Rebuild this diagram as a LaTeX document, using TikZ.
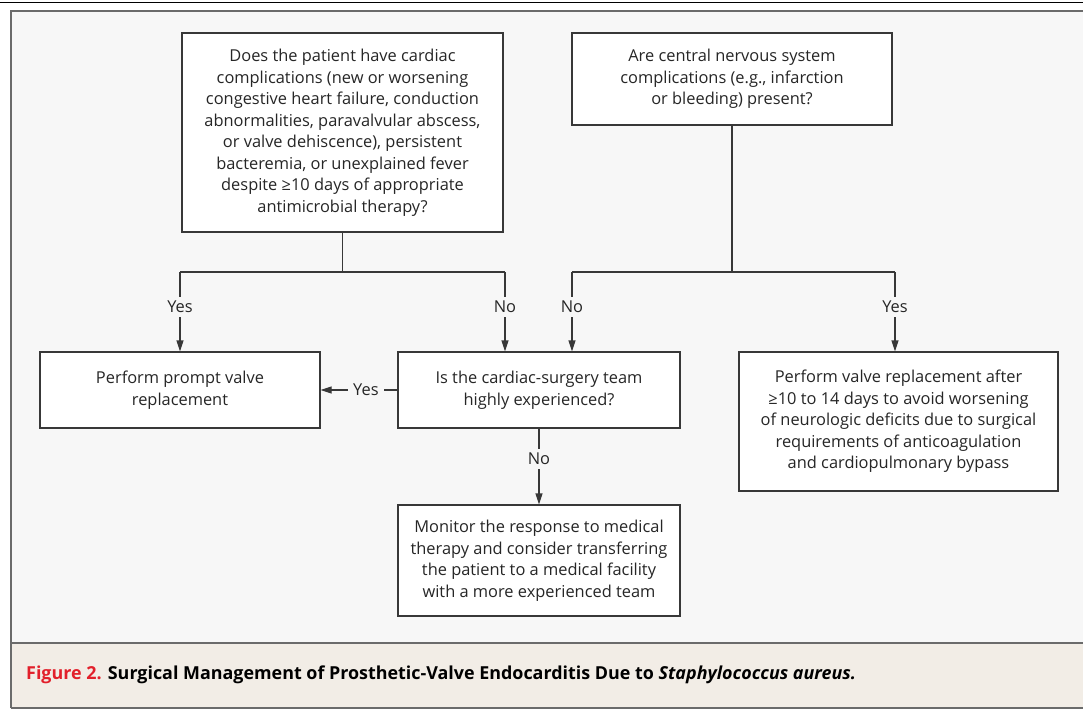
\documentclass[tikz,border=0pt]{standalone}
\usepackage{fontspec}
\setmainfont{Open Sans}
\usetikzlibrary{arrows.meta}

\definecolor{framegray}{HTML}{6B6B6B}
\definecolor{panelbg}{HTML}{F7F7F7}
\definecolor{captionbg}{HTML}{F2EDE6}
\definecolor{linegray}{HTML}{383838}
\definecolor{figred}{HTML}{E2202B}

\begin{document}
\begin{tikzpicture}[x=1pt,y=-1pt,
		box/.style={draw=linegray,line width=1.2pt,fill=white,align=center,inner sep=0pt,
			font=\fontsize{16.4}{21.5}\selectfont,text=black!85},
		conn/.style={draw=linegray,line width=1.2pt},
		arr/.style={conn,-{Triangle[length=11pt,width=7pt]}},
		lbl/.style={fill=panelbg,inner xsep=5pt,inner ysep=4pt,font=\fontsize{16.4}{18}\selectfont,text=black!85}]
				\useasboundingbox (0,0) rectangle (1083,710);
				\clip (0,0) rectangle (1083,710);

				% Panel and caption background
				\fill[panelbg] (11,11) rectangle (1095,643);
				\fill[captionbg] (11,643) rectangle (1095,708);
				\draw[black,line width=1.5pt] (0,2.5) -- (1083,2.5);
				\draw[framegray,line width=2.2pt] (11,708) -- (11,11) -- (1095,11);
				\draw[framegray,line width=2.5pt] (11,643) -- (1095,643);
				\draw[framegray,line width=2.2pt] (11,708) -- (1095,708);

				% Question boxes
				\node[box,minimum width=321,minimum height=199] (cardiac) at (342.5,132.5)
					{Does the patient have cardiac\\ complications (new or worsening\\ congestive heart failure, conduction\\ abnormalities, paravalvular abscess,\\ or valve dehiscence), persistent\\ bacteremia, or unexplained fever\\ despite ≥10 days of appropriate\\ antimicrobial therapy?};
				\node[box,minimum width=320,minimum height=92] (cns) at (732,79)
					{Are central nervous system\\ complications (e.g., infarction\\ or bleeding) present?};

				% Second row
				\node[box,minimum width=280,minimum height=76] (prompt) at (180,390)
					{Perform prompt valve\\ replacement};
				\node[box,minimum width=282,minimum height=76] (team) at (539,390)
					{Is the cardiac-surgery team\\ highly experienced?};
				\node[box,minimum width=319,minimum height=139] (delay) at (898.5,421.5)
					{Perform valve replacement after\\ ≥10 to 14 days to avoid worsening\\ of neurologic deficits due to surgical\\ requirements of anticoagulation\\ and cardiopulmonary bypass};

				% Third row
				\node[box,minimum width=282,minimum height=111] (monitor) at (539,560.5)
					{Monitor the response to medical\\ therapy and consider transferring\\ the patient to a medical facility\\ with a more experienced team};

				% Branch points
				\coordinate (cY) at (180,272);
				\coordinate (cN) at (505,272);
				\coordinate (nN) at (572,272);
				\coordinate (nY) at (895,272);

				% Cardiac question
				\draw[conn] (cardiac.south) -- (cardiac.south |- cY);
				\draw[conn] (cY) -- (cN);
				\draw[arr] (cY) -- (cY |- prompt.north) node[lbl,pos=0.44]{Yes};
				\draw[arr] (cN) -- (cN |- team.north) node[lbl,pos=0.44]{No};

				% CNS question
				\draw[conn] (cns.south) -- (cns.south |- nN);
				\draw[conn] (nN) -- (nY);
				\draw[arr] (nN) -- (nN |- team.north) node[lbl,pos=0.44]{No};
				\draw[arr] (nY) -- (nY |- delay.north) node[lbl,pos=0.44]{Yes};

				% Surgery team
				\draw[arr] (team.west) -- (prompt.east) node[lbl,pos=0.41]{Yes};
				\draw[arr] (team.south) -- (monitor.north) node[lbl,pos=0.4]{No};

				% Caption
				\node[anchor=base west,inner sep=0pt,font=\fontsize{17.9}{20}\selectfont\bfseries] (caption) at (26,679)
					{\textcolor{figred}{Figure 2.} Surgical Management of Prosthetic-Valve Endocarditis Due to \textit{Staphylococcus aureus.}};
			\end{tikzpicture}
\end{document}
